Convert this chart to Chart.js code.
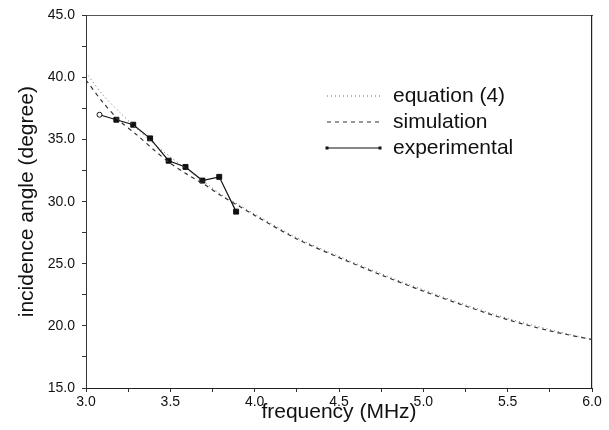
<!DOCTYPE html>
<html>
<head>
<meta charset="utf-8">
<script src="https://cdn.jsdelivr.net/npm/chart.js@4.4.1/dist/chart.umd.min.js"></script>
<style>
  html, body { margin: 0; padding: 0; background: #fff; }
  #wrap { width: 609px; height: 430px; }
</style>
</head>
<body>
<div id="wrap"><canvas id="angleChart"></canvas></div>
<script>
// Data
const eqFreq = [3.0, 3.1, 3.2, 3.3, 3.4, 3.5, 3.6, 3.7, 3.8, 3.9, 4.0, 4.25, 4.5, 4.75, 5.0, 5.25, 5.5, 5.75, 6.0];
const eqAngle = [40.4, 38.6, 37.2, 35.9, 34.7, 33.6, 32.6, 31.6, 30.6, 29.8, 29.0, 27.1, 25.6, 24.2, 22.9, 21.7, 20.6, 19.7, 18.9];

const simFreq = [3.0, 3.1, 3.2, 3.3, 3.4, 3.5, 3.6, 3.7, 3.8, 3.9, 4.0, 4.25, 4.5, 4.75, 5.0, 5.25, 5.5, 5.75, 6.0];
const simAngle = [39.8, 38.0, 36.5, 35.4, 34.2, 33.1, 32.2, 31.4, 30.5, 29.7, 28.9, 27.0, 25.5, 24.1, 22.8, 21.6, 20.5, 19.6, 18.9];

const expFreq = [3.08, 3.18, 3.28, 3.38, 3.49, 3.59, 3.69, 3.79, 3.89];
const expAngle = [37.0, 36.6, 36.2, 35.1, 33.3, 32.8, 31.7, 32.0, 29.2];

const xTicks = [3.0, 3.5, 4.0, 4.5, 5.0, 5.5, 6.0];
const yTicks = [15.0, 20.0, 25.0, 30.0, 35.0, 40.0, 45.0];

const legendLabels = ['equation (4)', 'simulation', 'experimental'];

function toPoints(xs, ys) {
    return xs.map((x, i) => ({ x: x, y: ys[i] }));
}

const FONT = "'Liberation Sans', Arial, Helvetica, sans-serif";

// Legend drawn inside the plot, like the original figure
const plotLegend = {
    id: 'plotLegend',
    afterDatasetsDraw(chart) {
        const ctx = chart.ctx;
        const rows = [96, 122, 148];
        const x0 = 327, x1 = 380, tx = 393;
        ctx.save();
        chart.data.datasets.forEach((ds, i) => {
            const y = rows[i];
            ctx.strokeStyle = ds.borderColor;
            ctx.lineWidth = ds.borderWidth;
            ctx.setLineDash(ds.borderDash || []);
            ctx.beginPath();
            ctx.moveTo(x0, y);
            ctx.lineTo(x1, y);
            ctx.stroke();
            ctx.setLineDash([]);
            if (i === 2) {
                ctx.fillStyle = ds.borderColor;
                ctx.fillRect(x0 - 1.5, y - 1.5, 3, 3);
                ctx.fillRect(x1 - 1.5, y - 1.5, 3, 3);
            }
            ctx.fillStyle = '#111';
            ctx.font = '21px ' + FONT;
            ctx.textBaseline = 'middle';
            ctx.fillText(legendLabels[i], tx, y);
        });
        ctx.restore();
    }
};

const ctx = document.getElementById('angleChart').getContext('2d');
const angleChart = new Chart(ctx, {
    type: 'line',
    data: {
        datasets: [{
            label: legendLabels[0],
            data: toPoints(eqFreq, eqAngle),
            borderColor: '#666',
            borderWidth: 1,
            borderDash: [1, 3],
            pointRadius: 0,
            tension: 0.3
        }, {
            label: legendLabels[1],
            data: toPoints(simFreq, simAngle),
            borderColor: '#333',
            borderWidth: 1.2,
            borderDash: [4, 4],
            pointRadius: 0,
            tension: 0.3
        }, {
            label: legendLabels[2],
            data: toPoints(expFreq, expAngle),
            borderColor: '#111',
            borderWidth: 1.2,
            pointStyle: expFreq.map((f, i) => i === 0 ? 'circle' : 'rect'),
            pointRadius: expFreq.map((f, i) => i === 0 ? 2.5 : 3.5),
            pointBackgroundColor: expFreq.map((f, i) => i === 0 ? '#fff' : '#111'),
            pointBorderColor: '#111',
            pointBorderWidth: 1,
            tension: 0
        }]
    },
    options: {
        responsive: true,
        maintainAspectRatio: false,
        animation: false,
        layout: { padding: { top: 15, right: 17, left: 0, bottom: 0 } },
        plugins: {
            legend: { display: false },
            tooltip: { enabled: false }
        },
        scales: {
            x: {
                type: 'linear',
                position: 'bottom',
                min: 3,
                max: 6,
                afterFit(scale) { scale.height = 42; },
                afterBuildTicks(scale) {
                    const t = [];
                    for (let v = 3; v <= 6.0001; v += 0.25) t.push({ value: Math.round(v * 100) / 100 });
                    scale.ticks = t;
                },
                ticks: {
                    autoSkip: false,
                    maxRotation: 0,
                    padding: 2,
                    color: '#111',
                    font: { family: FONT, size: 14 },
                    callback: (v) => xTicks.includes(v) ? v.toFixed(1) : ''
                },
                grid: { drawOnChartArea: false, drawTicks: true, tickLength: 4, color: '#333' },
                border: { color: '#222', width: 1 },
                title: {
                    display: true,
                    text: 'frequency (MHz)',
                    color: '#111',
                    font: { family: FONT, size: 21 },
                    padding: { top: 0, bottom: 5 }
                }
            },
            xTop: {
                type: 'linear',
                position: 'top',
                min: 3,
                max: 6,
                afterFit(scale) { scale.height = 0; },
                ticks: { display: false },
                grid: { drawOnChartArea: false, drawTicks: false },
                border: { color: '#555', width: 1, dash: [28, 16] }
            },
            y: {
                type: 'linear',
                position: 'left',
                min: 15,
                max: 45,
                afterFit(scale) { scale.width = 86; },
                afterBuildTicks(scale) {
                    const t = [];
                    for (let v = 15; v <= 45.001; v += 2.5) t.push({ value: v });
                    scale.ticks = t;
                },
                ticks: {
                    autoSkip: false,
                    padding: 7,
                    color: '#111',
                    font: { family: FONT, size: 14 },
                    callback: (v) => yTicks.includes(v) ? v.toFixed(1) : ''
                },
                grid: { drawOnChartArea: false, drawTicks: true, tickLength: 4, color: '#333' },
                border: { color: '#333', width: 1 },
                title: {
                    display: true,
                    text: 'incidence angle (degree)',
                    color: '#111',
                    font: { family: FONT, size: 21 },
                    padding: { top: 15, bottom: 0 }
                }
            },
            yRight: {
                type: 'linear',
                position: 'right',
                min: 15,
                max: 45,
                afterFit(scale) { scale.width = 0; },
                ticks: { display: false },
                grid: { drawOnChartArea: false, drawTicks: false },
                border: { color: '#222', width: 1.2 }
            }
        }
    },
    plugins: [plotLegend]
});
</script>
</body>
</html>
